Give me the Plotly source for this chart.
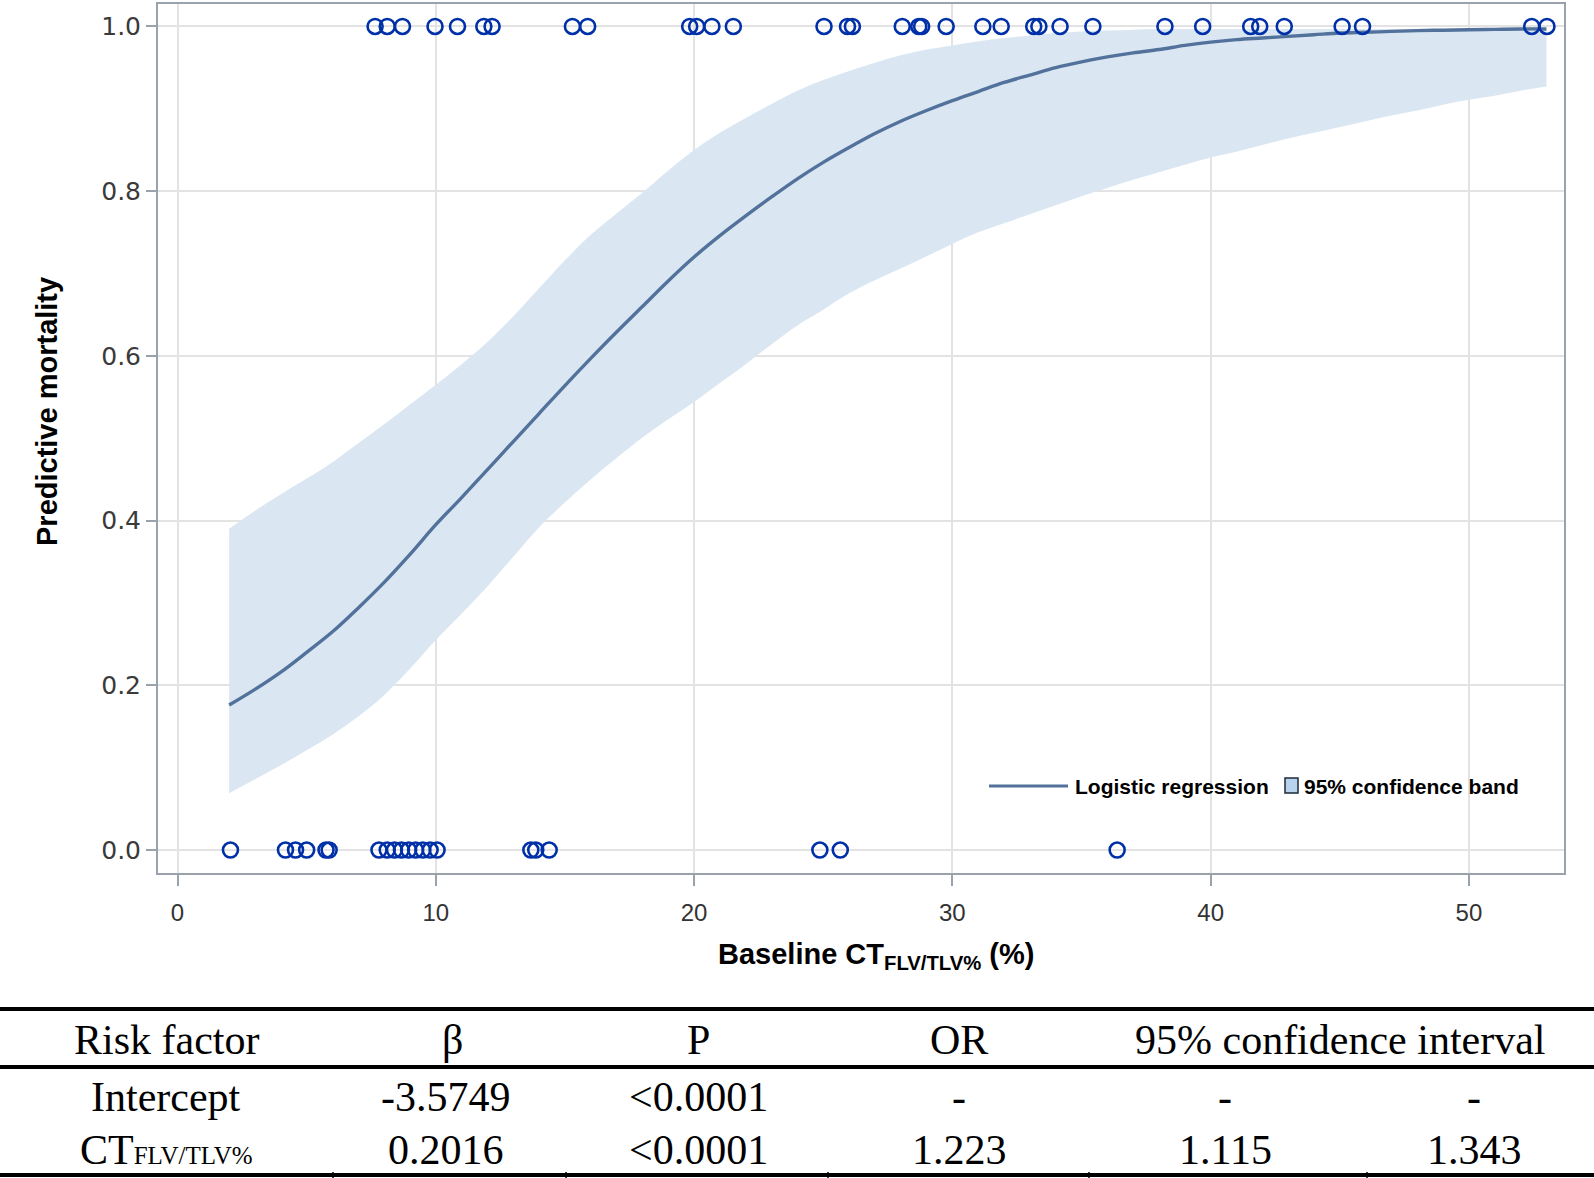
import plotly.graph_objects as go

############################################################
# DATA
############################################################

# observed patients: died (y = 1) and survived (y = 0)
died_x = [7.65, 8.12, 8.71, 9.97, 10.84, 11.86, 12.18, 15.29, 15.88, 19.83,
          20.1, 20.69, 21.52, 25.03, 25.94, 26.13, 28.06, 28.7, 28.81, 29.76,
          31.18, 31.89, 33.15, 33.35, 34.17, 35.44, 38.23, 39.69, 41.55, 41.9,
          42.85, 45.09, 45.88, 52.43, 53.02]
survived_x = [2.05, 4.18, 4.57, 5.0, 5.75, 5.87, 7.8, 8.12, 8.4, 8.67, 8.95,
              9.22, 9.5, 9.78, 10.05, 13.68, 13.87, 14.39, 24.87, 25.66, 36.38]

# fitted curve and 95% band (x = 2 .. 53)
fit_x = [2, 3, 4, 5, 6, 7, 8, 9, 10, 11, 12, 13, 14, 15, 16, 17, 18, 19, 20,
         21, 22, 23, 24, 25, 26, 27, 28, 29, 30, 31, 32, 33, 34, 35, 36, 37,
         38, 39, 40, 41, 42, 43, 44, 45, 46, 47, 48, 49, 50, 51, 52, 53]
fit_y = [0.176, 0.195, 0.216, 0.240, 0.265, 0.294, 0.325, 0.359, 0.395, 0.428,
         0.462, 0.496, 0.530, 0.564, 0.597, 0.629, 0.660, 0.691, 0.720, 0.746,
         0.770, 0.793, 0.815, 0.835, 0.853, 0.870, 0.885, 0.898, 0.910, 0.921,
         0.932, 0.941, 0.950, 0.957, 0.963, 0.968, 0.972, 0.977, 0.981, 0.984,
         0.986, 0.988, 0.990, 0.992, 0.993, 0.994, 0.995, 0.9955, 0.996,
         0.9965, 0.997, 0.997]
band_upper = [0.390, 0.412, 0.432, 0.451, 0.471, 0.494, 0.517, 0.541, 0.565,
              0.590, 0.617, 0.648, 0.682, 0.716, 0.747, 0.773, 0.798, 0.825,
              0.850, 0.871, 0.889, 0.906, 0.922, 0.935, 0.946, 0.956, 0.965,
              0.972, 0.977, 0.982, 0.986, 0.989, 0.992, 0.994, 0.995, 0.996,
              0.997, 0.997, 0.997, 0.997, 0.997, 0.997, 0.997, 0.997, 0.997,
              0.997, 0.997, 0.997, 0.997, 0.997, 0.997, 0.997]
band_lower = [0.069, 0.086, 0.103, 0.121, 0.140, 0.162, 0.188, 0.220, 0.255,
              0.287, 0.320, 0.356, 0.392, 0.422, 0.450, 0.476, 0.501, 0.523,
              0.544, 0.567, 0.590, 0.614, 0.637, 0.656, 0.676, 0.692, 0.706,
              0.721, 0.736, 0.750, 0.761, 0.772, 0.783, 0.794, 0.804, 0.814,
              0.823, 0.832, 0.841, 0.848, 0.856, 0.864, 0.871, 0.878, 0.885,
              0.892, 0.898, 0.905, 0.911, 0.916, 0.922, 0.927]

x_ticks = [0, 10, 20, 30, 40, 50]
y_ticks = [0.0, 0.2, 0.4, 0.6, 0.8, 1.0]
y_tick_labels = ["0.0", "0.2", "0.4", "0.6", "0.8", "1.0"]

# table below the chart
table_header = ["Risk factor", "β", "P", "OR", "95% confidence interval"]
table_rows = [
    ["Intercept", "-3.5749", "<0.0001", "-", "-", "-"],
    ["CT<span style='font-size:25px'>FLV/TLV%</span>", "0.2016", "<0.0001",
     "1.223", "1.115", "1.343"],
]

W, H = 1594, 1178

fig = go.Figure()

############################################################
# CONFIDENCE BAND
############################################################

fig.add_trace(go.Scatter(x=fit_x, y=band_lower, mode="lines",
                         line=dict(width=0, shape="spline"),
                         hoverinfo="skip", showlegend=False))
fig.add_trace(go.Scatter(x=fit_x, y=band_upper, mode="lines",
                         line=dict(width=0, shape="spline"), fill="tonexty",
                         fillcolor="#dae7f3", name="95% confidence band",
                         showlegend=False))

############################################################
# FITTED CURVE
############################################################

fig.add_trace(go.Scatter(x=fit_x, y=fit_y, mode="lines",
                         line=dict(color="#52719b", width=3.4, shape="spline"),
                         name="Logistic regression", showlegend=False))

############################################################
# OBSERVATIONS
############################################################

marker = dict(symbol="circle-open", size=15, color="#0030a8",
              line=dict(width=2.6, color="#0030a8"))
fig.add_trace(go.Scatter(x=died_x, y=[1.0] * len(died_x), mode="markers",
                         marker=marker, showlegend=False))
fig.add_trace(go.Scatter(x=survived_x, y=[0.0] * len(survived_x),
                         mode="markers", marker=marker, showlegend=False))

############################################################
# AXES
############################################################

frame = "#9aa3ac"
fig.update_xaxes(
    domain=[158 / W, 1564 / W], range=[-0.755, 53.68],
    tickvals=x_ticks, ticks="outside", ticklen=11, tickcolor=frame,
    tickwidth=1.5, ticklabelstandoff=6,
    tickfont=dict(family="Liberation Sans", size=24, color="#333333"),
    showgrid=True, gridcolor="#e3e3e3", gridwidth=1.5, zeroline=False,
    showline=True, mirror=True, linecolor=frame, linewidth=2,
    automargin=False,
)
fig.update_yaxes(
    domain=[1 - 873 / H, 1 - 4 / H], range=[-0.0279, 1.0273],
    tickvals=y_ticks, ticktext=y_tick_labels, ticks="outside", ticklen=10,
    tickcolor=frame, tickwidth=1.5,
    tickfont=dict(family="DejaVu Sans", size=25, color="#3a3a3a"),
    showgrid=True, gridcolor="#e3e3e3", gridwidth=1.5, zeroline=False,
    showline=True, mirror=True, linecolor=frame, linewidth=2,
    automargin=False,
)

title_font = dict(family="Liberation Sans", size=29, color="#000000")
fig.add_annotation(text="<b>Predictive mortality</b>", textangle=-90,
                   x=47 / W, y=1 - 412 / H, xref="paper", yref="paper",
                   xanchor="center", yanchor="middle",
                   showarrow=False, font=title_font)
fig.add_annotation(text="<b>Baseline CT<sub>FLV/TLV%</sub> (%)</b>",
                   x=876 / W, y=1 - 956 / H, xref="paper", yref="paper",
                   xanchor="center", yanchor="middle",
                   showarrow=False, font=title_font)

############################################################
# LEGEND (drawn by hand to match the original)
############################################################

shapes = []
shapes.append(dict(type="rect", xref="paper", yref="paper",
                   x0=982 / W, x1=1528 / W, y0=1 - 800 / H, y1=1 - 772 / H,
                   fillcolor="white", line=dict(width=0), layer="below"))
shapes.append(dict(type="line", xref="paper", yref="paper",
                   x0=989 / W, x1=1068 / W, y0=1 - 786 / H, y1=1 - 786 / H,
                   line=dict(color="#52719b", width=3)))
shapes.append(dict(type="rect", xref="paper", yref="paper",
                   x0=1285 / W, x1=1298 / W, y0=1 - 793 / H, y1=1 - 778 / H,
                   fillcolor="#b9d3ec", line=dict(color="#1b2a3a", width=1.5)))
legend_font = dict(family="Liberation Sans", size=21, color="#000000")
fig.add_annotation(text="<b>Logistic regression</b>", x=1073 / W,
                   y=1 - 786 / H, xref="paper", yref="paper", xanchor="left",
                   yanchor="middle", showarrow=False, font=legend_font)
fig.add_annotation(text="<b>95% confidence band</b>", x=1302 / W,
                   y=1 - 786 / H, xref="paper", yref="paper", xanchor="left",
                   yanchor="middle", showarrow=False, font=legend_font)

############################################################
# TABLE
############################################################

for y_line in [1009, 1067, 1175]:
    shapes.append(dict(type="line", xref="paper", yref="paper",
                       x0=0, x1=1, y0=1 - y_line / H, y1=1 - y_line / H,
                       line=dict(color="#000000", width=4)))
for x_sep in [333, 566, 828, 1089, 1367]:
    shapes.append(dict(type="line", xref="paper", yref="paper",
                       x0=x_sep / W, x1=x_sep / W,
                       y0=1 - 1178 / H, y1=1 - 1172 / H,
                       line=dict(color="#000000", width=1.5)))

table_font = dict(family="Liberation Serif", size=42, color="#000000")
header_x = [166, 452, 698, 959, 1340]
for label, xc in zip(table_header, header_x):
    fig.add_annotation(text=label, x=xc / W, y=1 - 1040 / H, xref="paper",
                       yref="paper", xanchor="center", yanchor="middle",
                       showarrow=False, font=table_font)

cell_x = [166, 446, 698, 959, 1225, 1474]
row_y = [1097, 1150]
for row, yc in zip(table_rows, row_y):
    for cell, xc in zip(row, cell_x):
        fig.add_annotation(text=cell, x=xc / W, y=1 - yc / H, xref="paper",
                           yref="paper", xanchor="center", yanchor="middle",
                           showarrow=False, font=table_font)

############################################################
# LAYOUT
############################################################

fig.update_layout(
    width=W, height=H,
    margin=dict(l=0, r=0, t=0, b=0),
    paper_bgcolor="white", plot_bgcolor="white",
    showlegend=False, shapes=shapes,
)

# drop the default page margin so the figure sits at the window corner
fig.write_html("out.html", config={"displayModeBar": False},
               post_script="document.body.style.margin = '0';")
